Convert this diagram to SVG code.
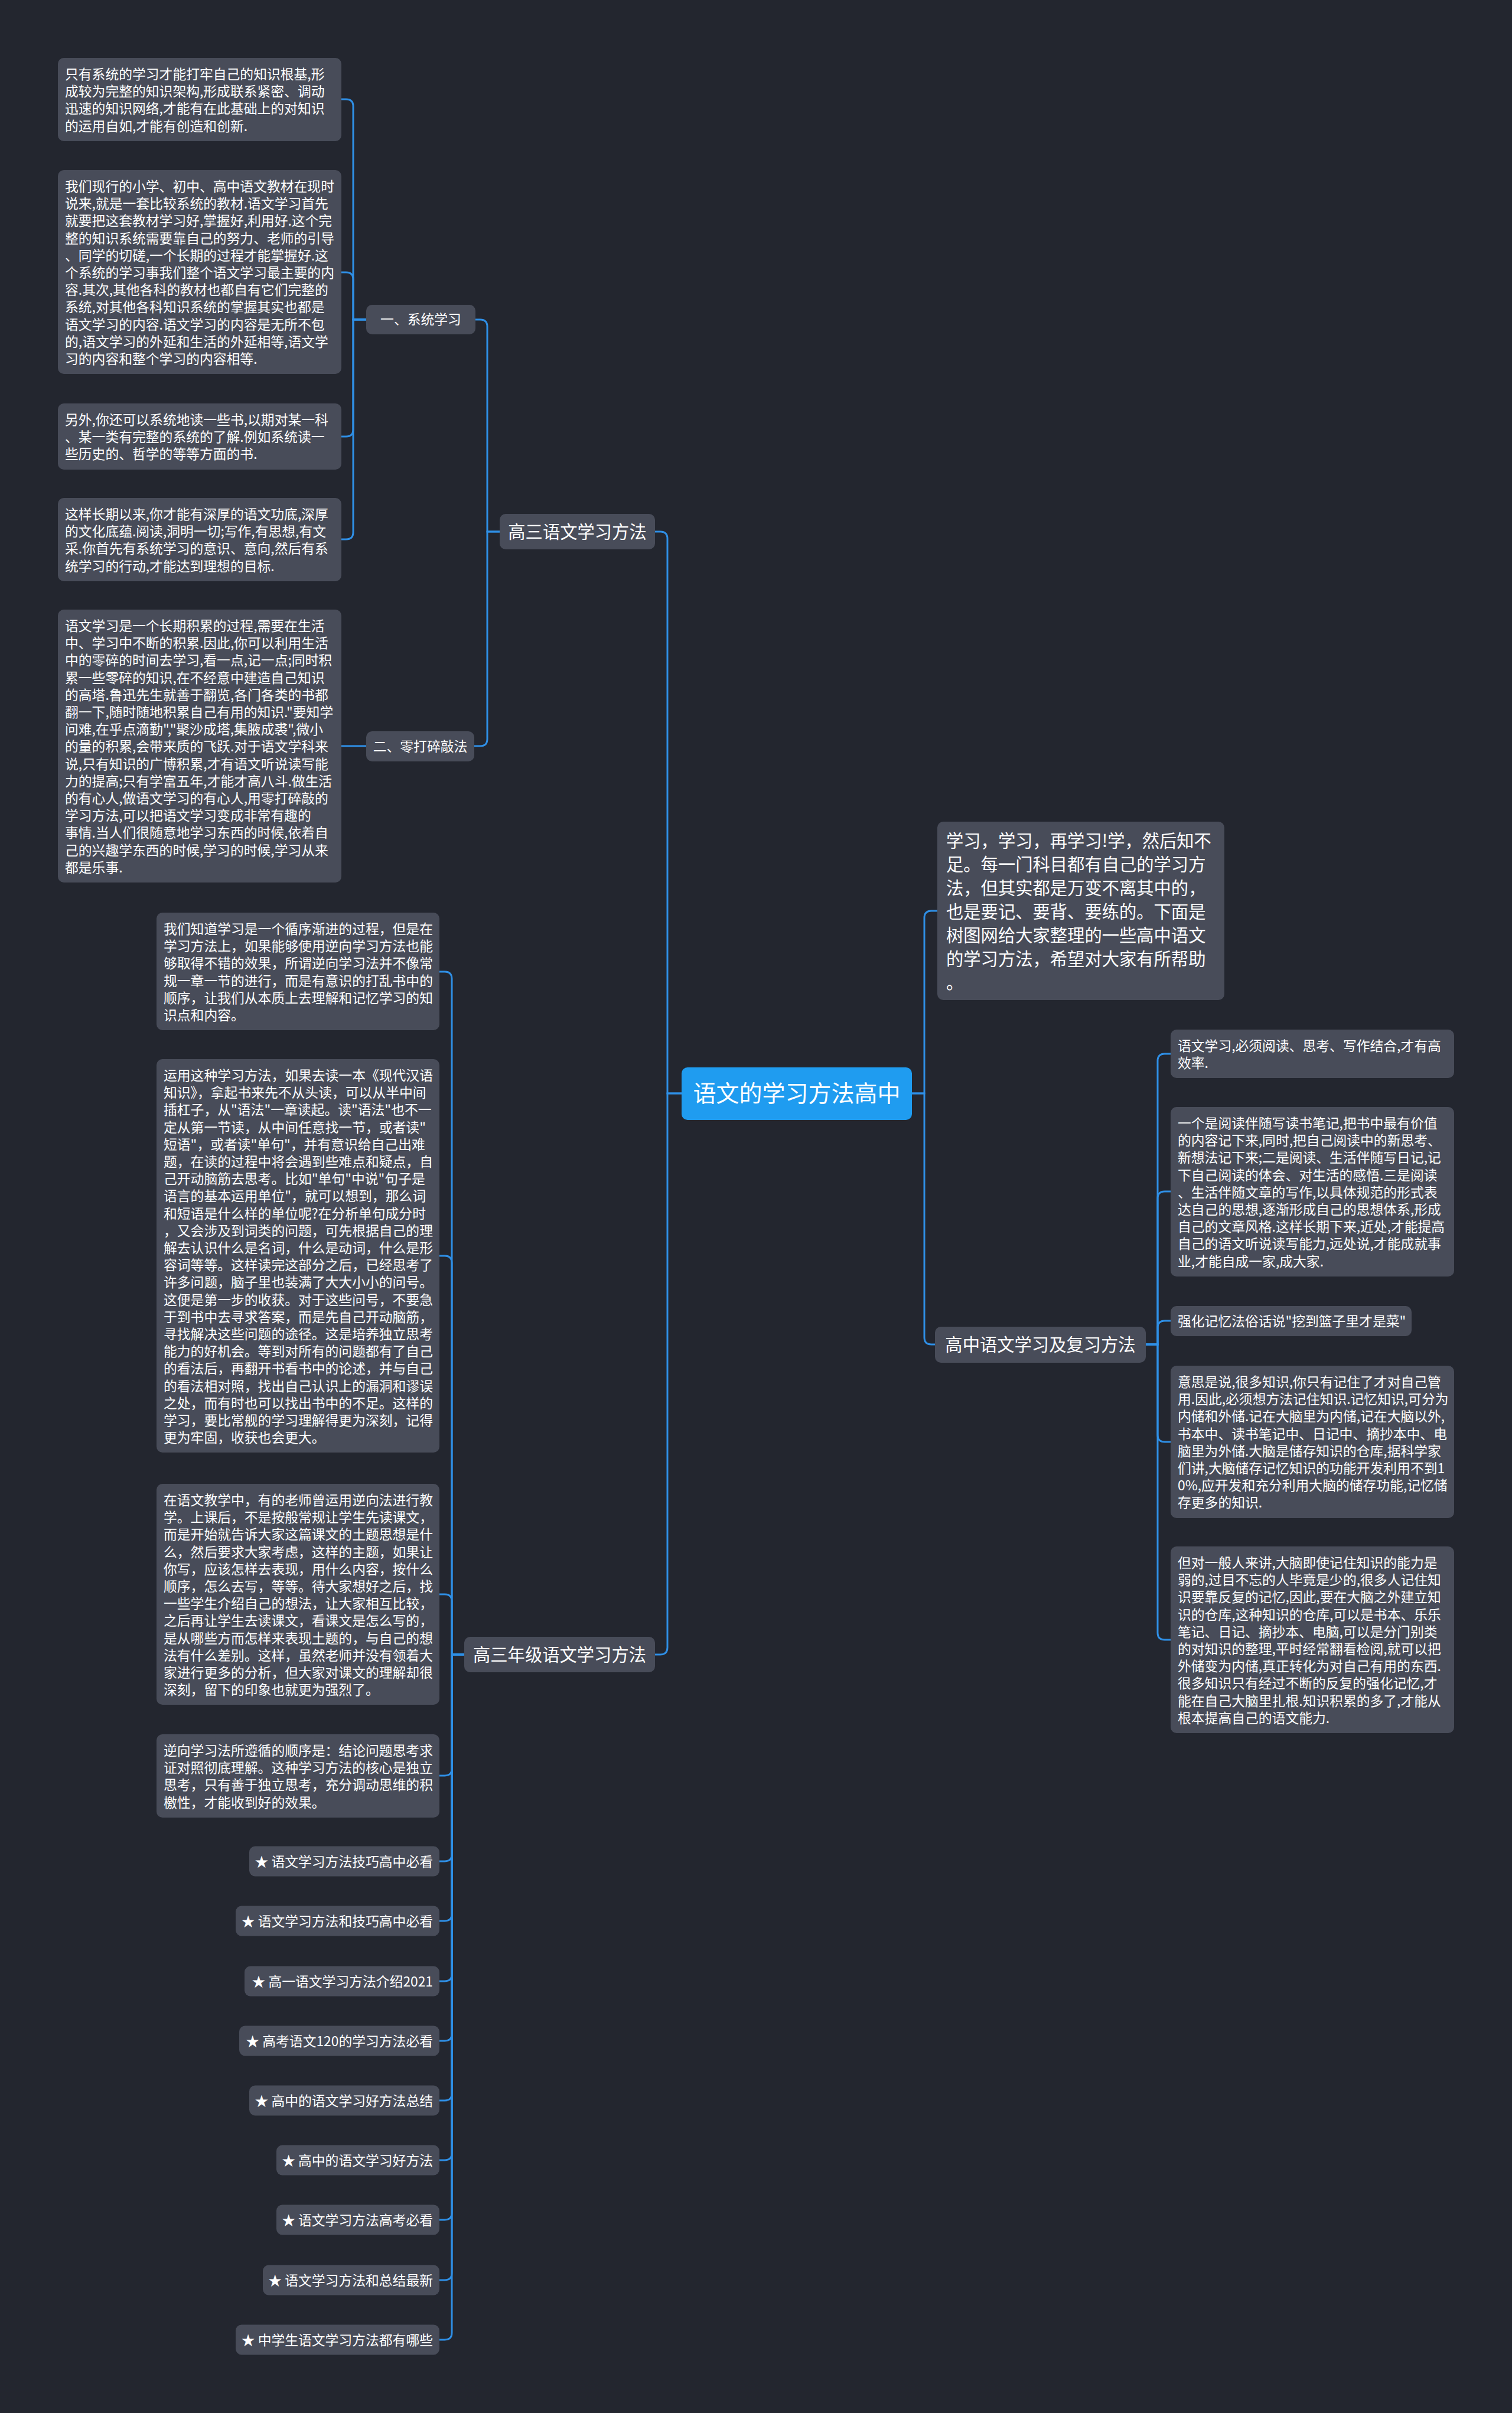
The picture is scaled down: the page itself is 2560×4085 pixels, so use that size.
<svg xmlns="http://www.w3.org/2000/svg" width="2560" height="4085" viewBox="0 0 2560 4085">
<style>
.n{fill:#484c59}
.t{font-family:"Noto Sans CJK SC","Noto Sans",sans-serif;font-size:22.8px;fill:#ffffff}
.lb{font-size:29.3px}
.mid{text-anchor:middle}
.end{text-anchor:end}
#connectors path{fill:none;stroke:#2f8fe6;stroke-width:3}
</style>
<rect x="0" y="0" width="2560" height="4085" fill="#23262f"/>
<g id="connectors">
<path d="M1154,1851 H1130 V912 Q1130,900 1118,900 H1109"/>
<path d="M1154,1851 H1130 V2789 Q1130,2801 1118,2801 H1109"/>
<path d="M1544,1851 H1565 V1554 Q1565,1542 1577,1542 H1587"/>
<path d="M1544,1851 H1565 V2264 Q1565,2276 1577,2276 H1583"/>
<path d="M846,900 H825 V553 Q825,541 813,541 H805"/>
<path d="M846,900 H825 V1251 Q825,1263 813,1263 H803"/>
<path d="M620,541 H598 V180 Q598,168 586,168 H578"/>
<path d="M620,541 H598 V473 Q598,461 586,461 H578"/>
<path d="M620,541 H598 V727 Q598,739 586,739 H578"/>
<path d="M620,541 H598 V901 Q598,913 586,913 H578"/>
<path d="M620,1263 H578"/>
<path d="M786,2801 H765 V1657 Q765,1645 753,1645 H744"/>
<path d="M786,2801 H765 V2138 Q765,2126 753,2126 H744"/>
<path d="M786,2801 H765 V2711 Q765,2699 753,2699 H744"/>
<path d="M786,2801 H765 V2994 Q765,3006 753,3006 H744"/>
<path d="M786,2801 H765 V3139 Q765,3151 753,3151 H744"/>
<path d="M786,2801 H765 V3240 Q765,3252 753,3252 H744"/>
<path d="M786,2801 H765 V3342 Q765,3354 753,3354 H744"/>
<path d="M786,2801 H765 V3443 Q765,3455 753,3455 H744"/>
<path d="M786,2801 H765 V3544 Q765,3556 753,3556 H744"/>
<path d="M786,2801 H765 V3645 Q765,3657 753,3657 H744"/>
<path d="M786,2801 H765 V3746 Q765,3758 753,3758 H744"/>
<path d="M786,2801 H765 V3848 Q765,3860 753,3860 H744"/>
<path d="M786,2801 H765 V3949 Q765,3961 753,3961 H744"/>
<path d="M1940,2276 H1960 V1796 Q1960,1784 1972,1784 H1982"/>
<path d="M1940,2276 H1960 V2029 Q1960,2017 1972,2017 H1982"/>
<path d="M1940,2276 H1960 V2248 Q1960,2236 1972,2236 H1982"/>
<path d="M1940,2276 H1960 V2429 Q1960,2441 1972,2441 H1982"/>
<path d="M1940,2276 H1960 V2764 Q1960,2776 1972,2776 H1982"/>
</g>
<g id="center">
<rect x="1154" y="1807" width="390" height="89" rx="10" fill="#1f9cf0"/>
<text class="t mid" x="1349" y="1865" style="font-size:39px">语文的学习方法高中</text>
</g>
<g id="gaosan">
<rect class="n" x="846" y="870" width="263" height="60" rx="10"/>
<text class="t lb mid" x="977.5" y="911">高三语文学习方法</text>
</g>
<g id="gaosannianji">
<rect class="n" x="786" y="2771" width="323" height="60" rx="10"/>
<text class="t lb mid" x="947.5" y="2812">高三年级语文学习方法</text>
</g>
<g id="fuxi">
<rect class="n" x="1583" y="2246" width="357" height="61" rx="10"/>
<text class="t lb mid" x="1761.5" y="2287">高中语文学习及复习方法</text>
</g>
<g id="intro">
<rect class="n" x="1587" y="1391" width="486" height="302" rx="10"/>
<text class="t lb" x="1602" y="1434"><tspan x="1602" dy="0">学习，学习，再学习!学，然后知不</tspan><tspan x="1602" dy="40">足。每一门科目都有自己的学习方</tspan><tspan x="1602" dy="40">法，但其实都是万变不离其中的，</tspan><tspan x="1602" dy="40">也是要记、要背、要练的。下面是</tspan><tspan x="1602" dy="40">树图网给大家整理的一些高中语文</tspan><tspan x="1602" dy="40">的学习方法，希望对大家有所帮助</tspan><tspan x="1602" dy="40">。</tspan></text>
</g>
<g id="xitong">
<rect class="n" x="620" y="516" width="185" height="50" rx="10"/>
<text class="t mid" x="712.5" y="549">一、系统学习</text>
</g>
<g id="lingda">
<rect class="n" x="620" y="1238" width="183" height="51" rx="10"/>
<text class="t mid" x="711.5" y="1272">二、零打碎敲法</text>
</g>
<g id="b1">
<rect class="n" x="98" y="98" width="480" height="141" rx="10"/>
<text class="t" x="110" y="134"><tspan x="110" dy="0">只有系统的学习才能打牢自己的知识根基,形</tspan><tspan x="110" dy="29.2">成较为完整的知识架构,形成联系紧密、调动</tspan><tspan x="110" dy="29.2">迅速的知识网络,才能有在此基础上的对知识</tspan><tspan x="110" dy="29.2">的运用自如,才能有创造和创新.</tspan></text>
</g>
<g id="b2">
<rect class="n" x="98" y="288" width="480" height="345" rx="10"/>
<text class="t" x="110" y="324"><tspan x="110" dy="0">我们现行的小学、初中、高中语文教材在现时</tspan><tspan x="110" dy="29.2">说来,就是一套比较系统的教材.语文学习首先</tspan><tspan x="110" dy="29.2">就要把这套教材学习好,掌握好,利用好.这个完</tspan><tspan x="110" dy="29.2">整的知识系统需要靠自己的努力、老师的引导</tspan><tspan x="110" dy="29.2">、同学的切磋,一个长期的过程才能掌握好.这</tspan><tspan x="110" dy="29.2">个系统的学习事我们整个语文学习最主要的内</tspan><tspan x="110" dy="29.2">容.其次,其他各科的教材也都自有它们完整的</tspan><tspan x="110" dy="29.2">系统,对其他各科知识系统的掌握其实也都是</tspan><tspan x="110" dy="29.2">语文学习的内容.语文学习的内容是无所不包</tspan><tspan x="110" dy="29.2">的,语文学习的外延和生活的外延相等,语文学</tspan><tspan x="110" dy="29.2">习的内容和整个学习的内容相等.</tspan></text>
</g>
<g id="b3">
<rect class="n" x="98" y="683" width="480" height="112" rx="10"/>
<text class="t" x="110" y="719"><tspan x="110" dy="0">另外,你还可以系统地读一些书,以期对某一科</tspan><tspan x="110" dy="29.2">、某一类有完整的系统的了解.例如系统读一</tspan><tspan x="110" dy="29.2">些历史的、哲学的等等方面的书.</tspan></text>
</g>
<g id="b4">
<rect class="n" x="98" y="843" width="480" height="141" rx="10"/>
<text class="t" x="110" y="879"><tspan x="110" dy="0">这样长期以来,你才能有深厚的语文功底,深厚</tspan><tspan x="110" dy="29.2">的文化底蕴.阅读,洞明一切;写作,有思想,有文</tspan><tspan x="110" dy="29.2">采.你首先有系统学习的意识、意向,然后有系</tspan><tspan x="110" dy="29.2">统学习的行动,才能达到理想的目标.</tspan></text>
</g>
<g id="b5">
<rect class="n" x="98" y="1032" width="480" height="462" rx="10"/>
<text class="t" x="110" y="1068"><tspan x="110" dy="0">语文学习是一个长期积累的过程,需要在生活</tspan><tspan x="110" dy="29.2">中、学习中不断的积累.因此,你可以利用生活</tspan><tspan x="110" dy="29.2">中的零碎的时间去学习,看一点,记一点;同时积</tspan><tspan x="110" dy="29.2">累一些零碎的知识,在不经意中建造自己知识</tspan><tspan x="110" dy="29.2">的高塔.鲁迅先生就善于翻览,各门各类的书都</tspan><tspan x="110" dy="29.2">翻一下,随时随地积累自己有用的知识."要知学</tspan><tspan x="110" dy="29.2">问难,在乎点滴勤","聚沙成塔,集腋成裘",微小</tspan><tspan x="110" dy="29.2">的量的积累,会带来质的飞跃.对于语文学科来</tspan><tspan x="110" dy="29.2">说,只有知识的广博积累,才有语文听说读写能</tspan><tspan x="110" dy="29.2">力的提高;只有学富五年,才能才高八斗.做生活</tspan><tspan x="110" dy="29.2">的有心人,做语文学习的有心人,用零打碎敲的</tspan><tspan x="110" dy="29.2">学习方法,可以把语文学习变成非常有趣的</tspan><tspan x="110" dy="29.2">事情.当人们很随意地学习东西的时候,依着自</tspan><tspan x="110" dy="29.2">己的兴趣学东西的时候,学习的时候,学习从来</tspan><tspan x="110" dy="29.2">都是乐事.</tspan></text>
</g>
<g id="l6">
<rect class="n" x="265" y="1545" width="479" height="199" rx="10"/>
<text class="t" x="277" y="1581"><tspan x="277" dy="0">我们知道学习是一个循序渐进的过程，但是在</tspan><tspan x="277" dy="29.2">学习方法上，如果能够使用逆向学习方法也能</tspan><tspan x="277" dy="29.2">够取得不错的效果，所谓逆向学习法并不像常</tspan><tspan x="277" dy="29.2">规一章一节的进行，而是有意识的打乱书中的</tspan><tspan x="277" dy="29.2">顺序，让我们从本质上去理解和记忆学习的知</tspan><tspan x="277" dy="29.2">识点和内容。</tspan></text>
</g>
<g id="l7">
<rect class="n" x="265" y="1793" width="479" height="666" rx="10"/>
<text class="t" x="277" y="1829"><tspan x="277" dy="0">运用这种学习方法，如果去读一本《现代汉语</tspan><tspan x="277" dy="29.2">知识》，拿起书来先不从头读，可以从半中间</tspan><tspan x="277" dy="29.2">插杠子，从"语法"一章读起。读"语法"也不一</tspan><tspan x="277" dy="29.2">定从第一节读，从中间任意找一节，或者读"</tspan><tspan x="277" dy="29.2">短语"，或者读"单句"，并有意识给自己出难</tspan><tspan x="277" dy="29.2">题，在读的过程中将会遇到些难点和疑点，自</tspan><tspan x="277" dy="29.2">己开动脑筋去思考。比如"单句"中说"句子是</tspan><tspan x="277" dy="29.2">语言的基本运用单位"，就可以想到，那么词</tspan><tspan x="277" dy="29.2">和短语是什么样的单位呢?在分析单句成分时</tspan><tspan x="277" dy="29.2">，又会涉及到词类的问题，可先根据自己的理</tspan><tspan x="277" dy="29.2">解去认识什么是名词，什么是动词，什么是形</tspan><tspan x="277" dy="29.2">容词等等。这样读完这部分之后，已经思考了</tspan><tspan x="277" dy="29.2">许多问题，脑子里也装满了大大小小的问号。</tspan><tspan x="277" dy="29.2">这便是第一步的收获。对于这些问号，不要急</tspan><tspan x="277" dy="29.2">于到书中去寻求答案，而是先自己开动脑筋，</tspan><tspan x="277" dy="29.2">寻找解决这些问题的途径。这是培养独立思考</tspan><tspan x="277" dy="29.2">能力的好机会。等到对所有的问题都有了自己</tspan><tspan x="277" dy="29.2">的看法后，再翻开书看书中的论述，并与自己</tspan><tspan x="277" dy="29.2">的看法相对照，找出自己认识上的漏洞和谬误</tspan><tspan x="277" dy="29.2">之处，而有时也可以找出书中的不足。这样的</tspan><tspan x="277" dy="29.2">学习，要比常舰的学习理解得更为深刻，记得</tspan><tspan x="277" dy="29.2">更为牢固，收获也会更大。</tspan></text>
</g>
<g id="l8">
<rect class="n" x="265" y="2512" width="479" height="374" rx="10"/>
<text class="t" x="277" y="2548"><tspan x="277" dy="0">在语文教学中，有的老师曾运用逆向法进行教</tspan><tspan x="277" dy="29.2">学。上课后，不是按般常规让学生先读课文，</tspan><tspan x="277" dy="29.2">而是开始就告诉大家这篇课文的土题思想是什</tspan><tspan x="277" dy="29.2">么，然后要求大家考虑，这样的主题，如果让</tspan><tspan x="277" dy="29.2">你写，应该怎样去表现，用什么内容，按什么</tspan><tspan x="277" dy="29.2">顺序，怎么去写，等等。待大家想好之后，找</tspan><tspan x="277" dy="29.2">一些学生介绍自己的想法，让大家相互比较，</tspan><tspan x="277" dy="29.2">之后再让学生去读课文，看课文是怎么写的，</tspan><tspan x="277" dy="29.2">是从哪些方而怎样来表现土题的，与自己的想</tspan><tspan x="277" dy="29.2">法有什么差别。这样，虽然老师并没有领着大</tspan><tspan x="277" dy="29.2">家进行更多的分析，但大家对课文的理解却很</tspan><tspan x="277" dy="29.2">深刻，留下的印象也就更为强烈了。</tspan></text>
</g>
<g id="l9">
<rect class="n" x="265" y="2936" width="479" height="141" rx="10"/>
<text class="t" x="277" y="2972"><tspan x="277" dy="0">逆向学习法所遵循的顺序是：结论问题思考求</tspan><tspan x="277" dy="29.2">证对照彻底理解。这种学习方法的核心是独立</tspan><tspan x="277" dy="29.2">思考，只有善于独立思考，充分调动思维的积</tspan><tspan x="277" dy="29.2">檄性，才能收到好的效果。</tspan></text>
</g>
<g id="s1"><rect class="n" x="422" y="3125.5" width="322" height="51" rx="10"/><text class="t end" x="733" y="3159.5">★ 语文学习方法技巧高中必看</text></g>
<g id="s2"><rect class="n" x="399" y="3226.5" width="345" height="51" rx="10"/><text class="t end" x="733" y="3260.5">★ 语文学习方法和技巧高中必看</text></g>
<g id="s3"><rect class="n" x="414" y="3328.5" width="330" height="51" rx="10"/><text class="t end" x="733" y="3362.5">★ 高一语文学习方法介绍2021</text></g>
<g id="s4"><rect class="n" x="405" y="3429.5" width="339" height="51" rx="10"/><text class="t end" x="733" y="3463.5">★ 高考语文120的学习方法必看</text></g>
<g id="s5"><rect class="n" x="422" y="3530.5" width="322" height="51" rx="10"/><text class="t end" x="733" y="3564.5">★ 高中的语文学习好方法总结</text></g>
<g id="s6"><rect class="n" x="468" y="3631.5" width="276" height="51" rx="10"/><text class="t end" x="733" y="3665.5">★ 高中的语文学习好方法</text></g>
<g id="s7"><rect class="n" x="468" y="3732.5" width="276" height="51" rx="10"/><text class="t end" x="733" y="3766.5">★ 语文学习方法高考必看</text></g>
<g id="s8"><rect class="n" x="445" y="3834.5" width="299" height="51" rx="10"/><text class="t end" x="733" y="3868.5">★ 语文学习方法和总结最新</text></g>
<g id="s9"><rect class="n" x="399" y="3935.5" width="345" height="51" rx="10"/><text class="t end" x="733" y="3969.5">★ 中学生语文学习方法都有哪些</text></g>
<g id="r1">
<rect class="n" x="1982" y="1743" width="480" height="82" rx="10"/>
<text class="t" x="1994" y="1779"><tspan x="1994" dy="0">语文学习,必须阅读、思考、写作结合,才有高</tspan><tspan x="1994" dy="29.2">效率.</tspan></text>
</g>
<g id="r2">
<rect class="n" x="1982" y="1874" width="480" height="287" rx="10"/>
<text class="t" x="1994" y="1910"><tspan x="1994" dy="0">一个是阅读伴随写读书笔记,把书中最有价值</tspan><tspan x="1994" dy="29.2">的内容记下来,同时,把自己阅读中的新思考、</tspan><tspan x="1994" dy="29.2">新想法记下来;二是阅读、生活伴随写日记,记</tspan><tspan x="1994" dy="29.2">下自己阅读的体会、对生活的感悟.三是阅读</tspan><tspan x="1994" dy="29.2">、生活伴随文章的写作,以具体规范的形式表</tspan><tspan x="1994" dy="29.2">达自己的思想,逐渐形成自己的思想体系,形成</tspan><tspan x="1994" dy="29.2">自己的文章风格.这样长期下来,近处,才能提高</tspan><tspan x="1994" dy="29.2">自己的语文听说读写能力,远处说,才能成就事</tspan><tspan x="1994" dy="29.2">业,才能自成一家,成大家.</tspan></text>
</g>
<g id="r3">
<rect class="n" x="1982" y="2211" width="408" height="51" rx="10"/>
<text class="t" x="1994" y="2245">强化记忆法俗话说"挖到篮子里才是菜"</text>
</g>
<g id="r4">
<rect class="n" x="1982" y="2312" width="480" height="258" rx="10"/>
<text class="t" x="1994" y="2348"><tspan x="1994" dy="0">意思是说,很多知识,你只有记住了才对自己管</tspan><tspan x="1994" dy="29.2">用.因此,必须想方法记住知识.记忆知识,可分为</tspan><tspan x="1994" dy="29.2">内储和外储.记在大脑里为内储,记在大脑以外,</tspan><tspan x="1994" dy="29.2">书本中、读书笔记中、日记中、摘抄本中、电</tspan><tspan x="1994" dy="29.2">脑里为外储.大脑是储存知识的仓库,据科学家</tspan><tspan x="1994" dy="29.2">们讲,大脑储存记忆知识的功能开发利用不到1</tspan><tspan x="1994" dy="29.2">0%,应开发和充分利用大脑的储存功能,记忆储</tspan><tspan x="1994" dy="29.2">存更多的知识.</tspan></text>
</g>
<g id="r5">
<rect class="n" x="1982" y="2618" width="480" height="316" rx="10"/>
<text class="t" x="1994" y="2654"><tspan x="1994" dy="0">但对一般人来讲,大脑即使记住知识的能力是</tspan><tspan x="1994" dy="29.2">弱的,过目不忘的人毕竟是少的,很多人记住知</tspan><tspan x="1994" dy="29.2">识要靠反复的记忆,因此,要在大脑之外建立知</tspan><tspan x="1994" dy="29.2">识的仓库,这种知识的仓库,可以是书本、乐乐</tspan><tspan x="1994" dy="29.2">笔记、日记、摘抄本、电脑,可以是分门别类</tspan><tspan x="1994" dy="29.2">的对知识的整理,平时经常翻看检阅,就可以把</tspan><tspan x="1994" dy="29.2">外储变为内储,真正转化为对自己有用的东西.</tspan><tspan x="1994" dy="29.2">很多知识只有经过不断的反复的强化记忆,才</tspan><tspan x="1994" dy="29.2">能在自己大脑里扎根.知识积累的多了,才能从</tspan><tspan x="1994" dy="29.2">根本提高自己的语文能力.</tspan></text>
</g>
</svg>
